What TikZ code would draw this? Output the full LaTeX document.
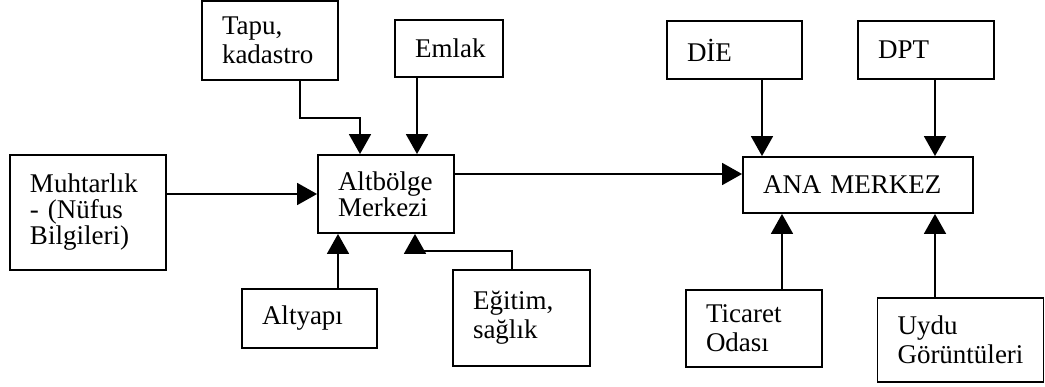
\documentclass[tikz,border=0pt]{standalone}
\usepackage{fontspec}
\setmainfont{Liberation Serif}
\usetikzlibrary{arrows.meta}
\begin{document}
\begin{tikzpicture}[x=1pt,y=-1pt,
  box/.style={draw, line width=1.9pt, rectangle, align=left,
    inner xsep=20pt, inner ysep=0pt,
    font=\fontsize{27}{26}\selectfont},
  wide/.style={font=\fontsize{27}{29}\selectfont},
  sz/.style 2 args={minimum width=#1pt, minimum height=#2pt, text width=#1pt-40pt},
  arr/.style={line width=1.9pt, -{Triangle[length=20pt,width=22pt]}}]
\useasboundingbox (0,0) rectangle (1045,386);

% source boxes around the sub-regional centre
\node[box,wide,sz={136}{79}]  (tapu)   at (270,40.5)  {Tapu,\\kadastro};
\node[box,sz={108}{57}]       (emlak)  at (449,48.5)  {Emlak};
\node[box,sz={156}{115}]      (muh)    at (88,212.5)  {Muhtarlık\\- (Nüfus\\Bilgileri)};
\node[box,sz={136}{78}]       (alt)    at (386,194)   {Altbölge\\Merkezi};
\node[box,sz={135}{59}]       (altyapi) at (309.5,318.5) {Altyapı};
\node[box,wide,sz={137}{96}]  (egitim) at (521.5,318) {Eğitim,\\sağlık};

% main centre and its sources
\node[box,sz={135}{58}]       (die)    at (734.5,50)  {DİE};
\node[box,sz={136}{58}]       (dpt)    at (926,50)    {DPT};
\node[box,sz={230}{56}]       (ana)    at (858,185)   {ANA MERKEZ};
\node[box,wide,sz={136}{77}]  (tic)    at (754,328.5) {Ticaret\\Odası};
\node[box,wide,sz={166}{84}]  (uydu)   at (960.5,340) {Uydu\\Görüntüleri};

% connectors into Altbölge Merkezi
\draw[arr] ([xshift=30]tapu.south) -- ++(0,37) -| ([xshift=-26]alt.north);
\draw[arr] ([xshift=-32]emlak.south) -- ([xshift=-32]emlak.south |- alt.north);
\draw[arr] (muh.east |- alt.west) -- (alt.west);
\draw[arr] ([xshift=28.5]altyapi.north) -- ([xshift=28.5]altyapi.north |- alt.south);
\draw[arr] ([xshift=-9.5]egitim.north) -- ++(0,-18) -| ([xshift=29]alt.south);

% Altbölge Merkezi to ANA MERKEZ
\draw[arr] ([yshift=20]alt.east) -- ([yshift=20]alt.east -| ana.west);

% connectors into ANA MERKEZ
\draw[arr] ([xshift=27.5]die.south) -- ([xshift=27.5]die.south |- ana.north);
\draw[arr] ([xshift=9]dpt.south) -- ([xshift=9]dpt.south |- ana.north);
\draw[arr] ([xshift=28]tic.north) -- ([xshift=28]tic.north |- ana.south);
\draw[arr] ([xshift=-25.5]uydu.north) -- ([xshift=-25.5]uydu.north |- ana.south);
\end{tikzpicture}
\end{document}
